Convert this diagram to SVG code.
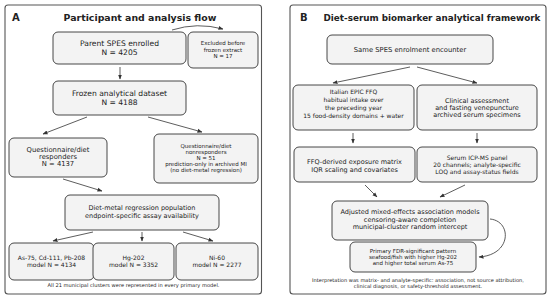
<svg xmlns="http://www.w3.org/2000/svg" width="550" height="299" viewBox="0 0 550 299">
<defs>
<marker id="ah" viewBox="0 0 10 10" refX="9" refY="5" markerWidth="5" markerHeight="5" orient="auto" markerUnits="userSpaceOnUse">
<path d="M0,1 L10,5 L0,9 z" fill="#333"/>
</marker>
<style>
text{font-family:"DejaVu Sans","Liberation Sans",sans-serif;fill:#222;text-anchor:middle}
.panel{fill:#fff;stroke:#555;stroke-width:1.1}
.box{fill:#f3f3f3;stroke:#333;stroke-width:0.9}
.ttl{font-weight:bold;font-size:9.4px}
.lbl{font-weight:bold;font-size:10px;text-anchor:start}
.edge{fill:none;stroke:#333;stroke-width:0.8;marker-end:url(#ah)}
.f76{font-size:7.6px}.f68{font-size:6.8px}.f65{font-size:6.5px}.f6{font-size:6px}.f56{font-size:5.5px}.f5{font-size:5.1px}
</style>
</defs>
<rect class="panel" x="5" y="5" width="256.5" height="289" rx="3"/>
<rect class="panel" x="290" y="5" width="256" height="289" rx="3"/>
<text class="lbl" x="12" y="21">A</text>
<text class="ttl" x="140" y="21">Participant and analysis flow</text>
<text class="lbl" x="300" y="21">B</text>
<text class="ttl" x="432" y="21" style="font-size:8.8px">Diet-serum biomarker analytical framework</text>

<g id="connectors">
<path class="edge" d="M172,30 Q197,22 223,29"/>
<path class="edge" d="M120,67 L120,79"/>
<path class="edge" d="M87,117 L43,134"/>
<path class="edge" d="M148,117 L202,132"/>
<path class="edge" d="M63,179 L102,191"/>
<path class="edge" d="M93,232 L53,241"/>
<path class="edge" d="M142,232 L142,241"/>
<path class="edge" d="M183,232 L213,241"/>
<path class="edge" d="M410,67 L333,83"/>
<path class="edge" d="M417,67 L477,83"/>
<path class="edge" d="M353,133 L353,143"/>
<path class="edge" d="M477,133 L477,143"/>
<path class="edge" d="M365,185 L377,197"/>
<path class="edge" d="M465,185 L440,197"/>
<path class="edge" d="M490,219 C512,221 512,255 479,257"/>
</g>

<g id="n_parent"><rect class="box" x="53" y="32" width="133" height="32" rx="5"/>
<text class="f76" x="119.5" y="46">Parent SPES enrolled</text><text class="f76" x="119.5" y="55">N = 4205</text></g>
<g id="n_excluded"><rect class="box" x="188" y="32" width="70" height="36" rx="5"/>
<text class="f56" x="223" y="45">Excluded before</text><text class="f56" x="223" y="51.5">frozen extract</text><text class="f56" x="223" y="58">N = 17</text></g>
<g id="n_frozen"><rect class="box" x="53" y="81" width="133" height="34" rx="5"/>
<text class="f76" x="119.5" y="96">Frozen analytical dataset</text><text class="f76" x="119.5" y="105">N = 4188</text></g>
<g id="n_responders"><rect class="box" x="9" y="138" width="98" height="39" rx="5"/>
<text class="f68" x="58" y="152">Questionnaire/diet</text><text class="f68" x="58" y="159">responders</text><text class="f68" x="58" y="166">N = 4137</text></g>
<g id="n_nonresponders"><rect class="box" x="154" y="134" width="104" height="49" rx="5"/>
<text class="f56" x="206" y="148">Questionnaire/diet</text><text class="f56" x="206" y="154">nonresponders</text><text class="f56" x="206" y="160">N = 51</text><text class="f56" x="206" y="166">prediction-only in archived MI</text><text class="f56" x="206" y="172">(no diet-metal regression)</text></g>
<g id="n_regression"><rect class="box" x="65" y="195" width="154" height="35" rx="5"/>
<text class="f65" x="142" y="210">Diet-metal regression population</text><text class="f65" x="142" y="217.5">endpoint-specific assay availability</text></g>
<g id="n_as"><rect class="box" x="9" y="243" width="85" height="37" rx="5"/>
<text class="f6" x="51.5" y="260">As-75, Cd-111, Pb-208</text><text class="f6" x="51.5" y="267">model N = 4134</text></g>
<g id="n_hg"><rect class="box" x="93" y="243" width="81" height="37" rx="5"/>
<text class="f6" x="133.5" y="260">Hg-202</text><text class="f6" x="133.5" y="267">model N = 3352</text></g>
<g id="n_ni"><rect class="box" x="176" y="243" width="82" height="37" rx="5"/>
<text class="f6" x="217" y="260">Ni-60</text><text class="f6" x="217" y="267">model N = 2277</text></g>
<text class="f5" x="133.5" y="287">All 21 municipal clusters were represented in every primary model.</text>

<g id="n_same"><rect class="box" x="327" y="35" width="166" height="29" rx="5"/>
<text class="f68" x="410" y="52">Same SPES enrolment encounter</text></g>
<g id="n_ffq"><rect class="box" x="293" y="85" width="121" height="45" rx="5"/>
<text class="f6" x="353.5" y="94">Italian EPIC FFQ</text><text class="f6" x="353.5" y="102">habitual intake over</text><text class="f6" x="353.5" y="110">the preceding year</text><text class="f6" x="353.5" y="118">15 food-density domains + water</text></g>
<g id="n_clinical"><rect class="box" x="417" y="85" width="120" height="45" rx="5"/>
<text class="f65" x="477" y="103">Clinical assessment</text><text class="f65" x="477" y="110">and fasting venepuncture</text><text class="f65" x="477" y="117">archived serum specimens</text></g>
<g id="n_matrix"><rect class="box" x="294" y="147" width="121" height="35" rx="5"/>
<text class="f65" x="354.5" y="164">FFQ-derived exposure matrix</text><text class="f65" x="354.5" y="171.5">IQR scaling and covariates</text></g>
<g id="n_icp"><rect class="box" x="417" y="147" width="120" height="35" rx="5"/>
<text class="f6" x="477" y="160">Serum ICP-MS panel</text><text class="f6" x="477" y="167">20 channels; analyte-specific</text><text class="f6" x="477" y="174">LOQ and assay-status fields</text></g>
<g id="n_models"><rect class="box" x="332" y="201" width="156" height="39" rx="5"/>
<text class="f65" x="410" y="214">Adjusted mixed-effects association models</text><text class="f65" x="410" y="221.5">censoring-aware completion</text><text class="f65" x="410" y="229">municipal-cluster random intercept</text></g>
<g id="n_primary"><rect class="box" x="350" y="242" width="126" height="30" rx="5"/>
<text class="f56" x="413" y="252.5">Primary FDR-significant pattern</text><text class="f56" x="413" y="258.5">seafood/fish with higher Hg-202</text><text class="f56" x="413" y="264.5">and higher total serum As-75</text></g>
<text class="f5" x="418" y="282">Interpretation was matrix- and analyte-specific: association, not source attribution,</text>
<text class="f5" x="418" y="288">clinical diagnosis, or safety-threshold assessment.</text>
</svg>
